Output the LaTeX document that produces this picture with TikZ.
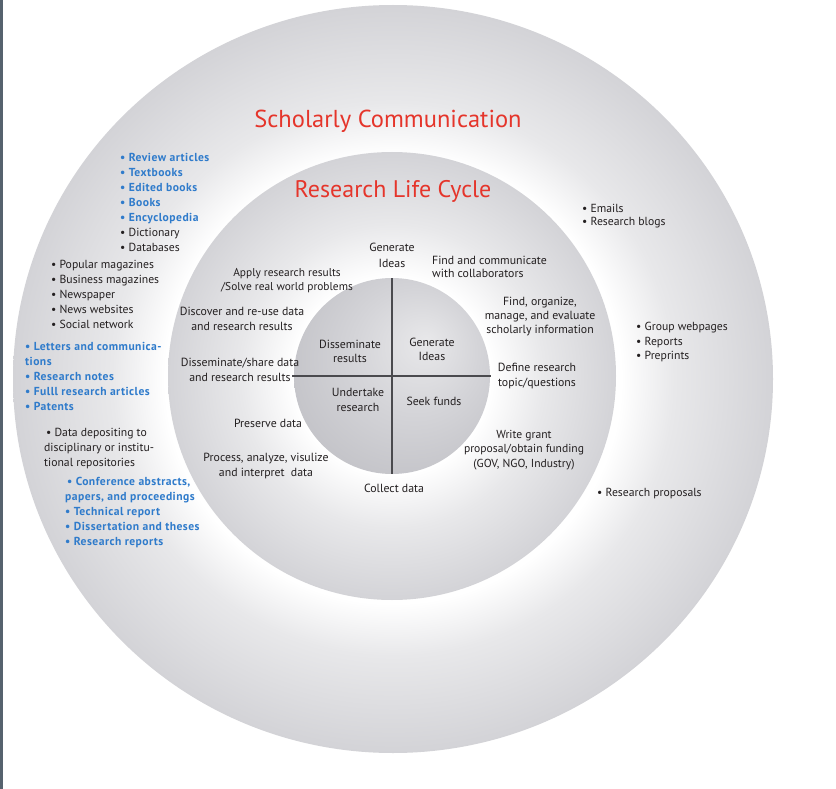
\documentclass[tikz,border=0pt]{standalone}
\usepackage{fontspec}
\setmainfont{PT Sans}
\newfontfamily\blufont[LetterSpace=4]{PT Sans}
\definecolor{scred}{HTML}{E5352B}
\definecolor{scblue}{HTML}{2F7BCB}
\definecolor{scink}{HTML}{231F20}
\definecolor{ringgray}{HTML}{D3D3D7}
\definecolor{ringmid}{HTML}{E8E8EA}
\definecolor{coregray}{HTML}{C0C0C5}
\definecolor{coremid}{HTML}{D4D4D8}
\definecolor{corelight}{HTML}{E8E8EA}
\definecolor{borderline}{HTML}{56626E}
\definecolor{crossline}{HTML}{4A4A4E}
\pgfdeclareradialshading{outerring}{\pgfpoint{0bp}{0bp}}{color(0bp)=(white); color(15bp)=(white); color(18.5bp)=(ringmid); color(25bp)=(ringgray); color(50bp)=(ringgray)}
\pgfdeclareradialshading{innerdisc}{\pgfpoint{0bp}{0bp}}{color(0bp)=(white); color(11bp)=(white); color(17bp)=(ringmid); color(25bp)=(ringgray); color(50bp)=(ringgray)}
\pgfdeclareradialshading{coredisc}{\pgfpoint{9bp}{9bp}}{color(0bp)=(corelight); color(16bp)=(coremid); color(34bp)=(coregray); color(50bp)=(coregray)}
\begin{document}
\begin{tikzpicture}[x=1pt,y=-1pt,
  txt/.style={font=\fontsize{11.8}{15}\selectfont, text=scink, inner sep=0pt, align=center, anchor=north},
  lst/.style={font=\fontsize{11.7}{15}\selectfont, text=scink, inner sep=0pt, align=left, anchor=north west},
  blst/.style={lst, font=\blufont\fontsize{11.6}{15}\selectfont\bfseries, text=scblue},
  title/.style={font=\fontsize{24.5}{28}\selectfont, text=scred, inner sep=0pt, anchor=base},
  crossstyle/.style={crossline, line width=1.3pt}]
\useasboundingbox (0,0) rectangle (836,789);
\fill[white] (0,0) rectangle (836,789);
\draw[borderline, line width=2.5pt] (1.25,0) -- (1.25,789);
% discs
\shade[shading=outerring] (393,379) ellipse [x radius=380, y radius=374];
\shade[shading=innerdisc] (392,376) circle [radius=224];
\shade[shading=coredisc] (392,376) circle [radius=98];
\coordinate (ctop) at (392,278);
\coordinate (cbot) at (392,474);
\coordinate (cleft) at (292,376);
\coordinate (cright) at (491,376);
\draw[crossstyle] (ctop) -- (cbot);
\draw[crossstyle] (cleft) -- (cright);
% titles
\node[title] (sc) at (388,128) {Scholarly Communication};
\node[title, font=\fontsize{24}{27}\selectfont] (rlc) at (393,198) {Research Life Cycle};
% left lists
\node[lst] (l1) at (120,153) {\textcolor{scblue}{\blufont\bfseries\fontsize{11.6}{15}\selectfont • Review articles}\\
  \textcolor{scblue}{\blufont\bfseries\fontsize{11.6}{15}\selectfont • Textbooks}\\
  \textcolor{scblue}{\blufont\bfseries\fontsize{11.6}{15}\selectfont • Edited books}\\
  \textcolor{scblue}{\blufont\bfseries\fontsize{11.6}{15}\selectfont • Books}\\
  \textcolor{scblue}{\blufont\bfseries\fontsize{11.6}{15}\selectfont • Encyclopedia}\\
  • Dictionary\\ • Databases};
\node[lst] (l2) at (51,260) {• Popular magazines\\ • Business magazines\\ • Newspaper\\ • News websites\\ • Social network};
\node[blst] (l3) at (25,342) {• Letters and communica-\\tions\\ • Research notes\\ • Fulll research articles\\ • Patents};
\node[lst] (l4) at (44,428) {\,• Data depositing to\\ disciplinary or institu-\\ tional repositories};
\node[blst] (l5) at (65,477) {\,• Conference abstracts,\\ papers, and proceedings\\ • Technical report\\ • Dissertation and theses\\ • Research reports};
% right lists
\node[lst, font=\fontsize{11.7}{13.5}\selectfont] (r1) at (582,204) {• Emails\\ • Research blogs};
\node[lst, font=\fontsize{11.7}{14.5}\selectfont] (r2) at (636,322) {• Group webpages\\ • Reports\\ • Preprints};
\node[lst] (r3) at (597,488) {• Research proposals};
% research life cycle
\node[txt, font=\fontsize{11.8}{16}\selectfont] (gen) at (392,243) {Generate\\Ideas};
\node[txt, anchor=north west, align=left, font=\fontsize{11.8}{13}\selectfont] (comm) at (432,256) {Find and communicate\\with collaborators};
\node[txt, font=\fontsize{11.4}{14}\selectfont] (apply) at (287,268) {Apply research results\\/Solve real world problems};
\node[txt, font=\fontsize{11.8}{14}\selectfont] (findorg) at (540,297) {Find, organize,\\manage, and evaluate\\scholarly information};
\node[txt] (discover) at (242,307) {Discover and re-use data\\and research results};
\node[txt] (share) at (240,358) {Disseminate/share data\\and research results};
\node[txt] (define) at (537,363) {Define research\\topic/questions};
\node[txt] (preserve) at (268,419) {Preserve data};
\node[txt] (process) at (266,453) {Process, analyze, visulize\\and interpret~ data};
\node[txt, font=\fontsize{11.6}{14.5}\selectfont] (grant) at (524,430) {Write grant\\proposal/obtain funding\\(GOV, NGO, Industry)};
\node[txt] (collect) at (394,484) {Collect data};
% core quadrants
\node[txt, font=\fontsize{11.8}{14}\selectfont] (dissres) at (350,340) {Disseminate\\results};
\node[txt, font=\fontsize{11.8}{14}\selectfont] (genideas) at (432,338) {Generate\\Ideas};
\node[txt] (undertake) at (358,388) {Undertake\\research};
\node[txt] (seek) at (434,397) {Seek funds};
\end{tikzpicture}
\end{document}
